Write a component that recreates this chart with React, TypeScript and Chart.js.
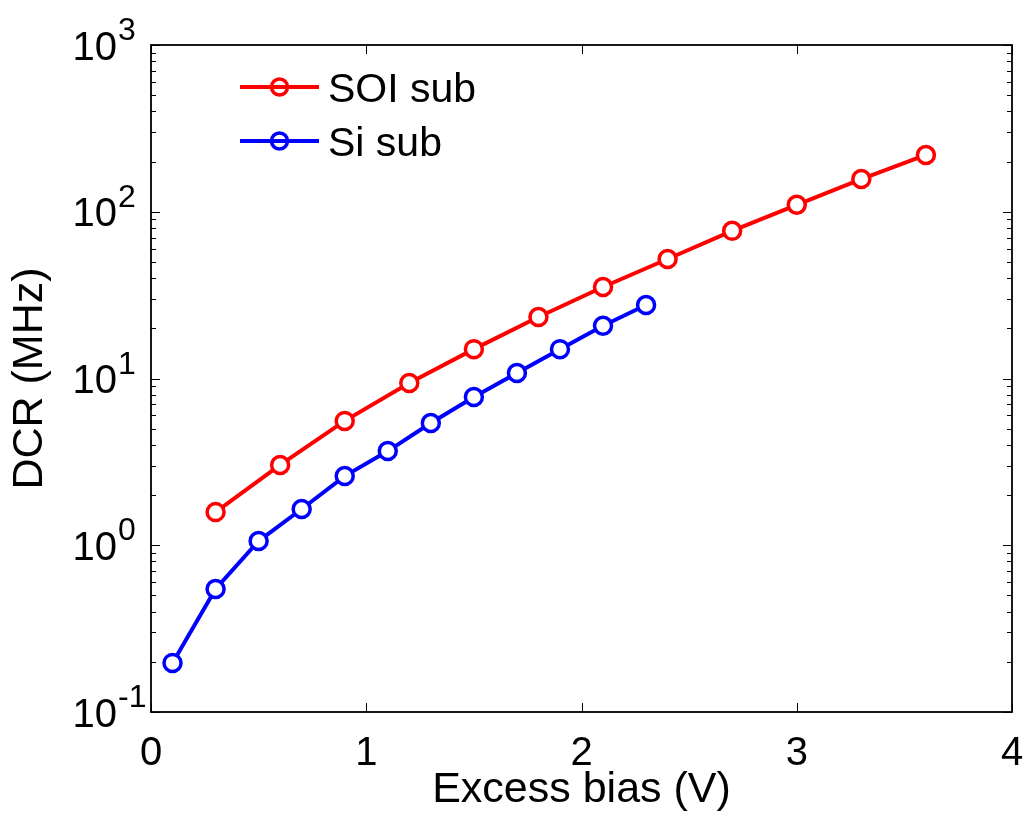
import { useEffect, useRef } from 'react';
import { Chart, registerables } from 'chart.js';

Chart.register(...registerables);

// ---- data ----
const soiBias = [0.3, 0.6, 0.9, 1.2, 1.5, 1.8, 2.1, 2.4, 2.7, 3.0, 3.3, 3.6];
const soiDcr = [1.58, 3.03, 5.57, 9.4, 15.0, 23.4, 35.4, 52.1, 76.8, 110, 157, 219];
const siBias = [0.1, 0.3, 0.5, 0.7, 0.9, 1.1, 1.3, 1.5, 1.7, 1.9, 2.1, 2.3];
const siDcr = [0.197, 0.547, 1.06, 1.65, 2.6, 3.67, 5.41, 7.74, 10.8, 15.0, 20.7, 27.6];
const seriesNames = ['SOI sub', 'Si sub'];
const seriesColors = ['#ff0000', '#0000ff'];
const xTickValues = [0, 1, 2, 3, 4];
const yDecadeExponents = [-1, 0, 1, 2, 3];
const xTitle = 'Excess bias (V)';
const yTitle = 'DCR (MHz)';

const FONT = '"Liberation Sans", Arial, Helvetica, sans-serif';

const matlabAxes = {
  id: 'matlabAxes',
  afterDraw(chart: any) {
    const { ctx, chartArea: a, scales } = chart;
    const xs = scales.x;
    const ys = scales.y;
    ctx.save();
    ctx.strokeStyle = '#000';
    ctx.lineWidth = 1;
    // y ticks (major + minor), left and right, inward
    const minE = yDecadeExponents[0];
    const maxE = yDecadeExponents[yDecadeExponents.length - 1];
    for (let e = minE; e <= maxE; e++) {
      for (let m = 1; m <= 9; m++) {
        if (e === maxE && m > 1) break;
        const v = m * Math.pow(10, e);
        const py = Math.round(ys.getPixelForValue(v)) + 0.5;
        const len = m === 1 ? 9 : 5;
        ctx.beginPath();
        ctx.moveTo(a.left, py);
        ctx.lineTo(a.left + len, py);
        ctx.moveTo(a.right, py);
        ctx.lineTo(a.right - len, py);
        ctx.stroke();
      }
    }
    // x ticks, top and bottom, inward
    for (const t of xTickValues) {
      const px = Math.round(xs.getPixelForValue(t)) + 0.5;
      ctx.beginPath();
      ctx.moveTo(px, a.bottom);
      ctx.lineTo(px, a.bottom - 9);
      ctx.moveTo(px, a.top);
      ctx.lineTo(px, a.top + 9);
      ctx.stroke();
    }
    // box
    ctx.lineWidth = 1.8;
    ctx.strokeRect(a.left, a.top, a.right - a.left, a.bottom - a.top);

    // y tick labels 10^k
    ctx.fillStyle = '#000';
    for (const e of yDecadeExponents) {
      const py = ys.getPixelForValue(Math.pow(10, e));
      ctx.font = `40px ${FONT}`;
      ctx.textAlign = 'right';
      ctx.textBaseline = 'alphabetic';
      const baseRight = a.left - 34;
      ctx.fillText('10', baseRight, py + 14.5);
      ctx.font = `32px ${FONT}`;
      ctx.textAlign = 'left';
      ctx.fillText(String(e), baseRight + 1, py - 5);
    }

    // legend
    const datasets = chart.data.datasets;
    datasets.forEach((ds: any, i: number) => {
      const ly = a.top + 42 + i * 54;
      const x0 = a.left + 89;
      const x1 = a.left + 168;
      ctx.strokeStyle = ds.borderColor;
      ctx.lineWidth = 4;
      ctx.beginPath();
      ctx.moveTo(x0, ly);
      ctx.lineTo(x1, ly);
      ctx.stroke();
      ctx.lineWidth = 3.5;
      ctx.beginPath();
      ctx.arc((x0 + x1) / 2, ly, 8, 0, Math.PI * 2);
      ctx.stroke();
      ctx.fillStyle = '#000';
      ctx.font = `41px ${FONT}`;
      ctx.textAlign = 'left';
      ctx.textBaseline = 'alphabetic';
      ctx.fillText(ds.label, a.left + 177, ly + 15);
    });
    ctx.restore();
  },
};

export default function App() {
  const ref = useRef<HTMLCanvasElement>(null);
  useEffect(() => {
    Chart.defaults.font.family = FONT;
    Chart.defaults.color = '#000';
    const mk = (xv: number[], yv: number[], i: number) => ({
      label: seriesNames[i],
      data: xv.map((x, k) => ({ x, y: yv[k] })),
      borderColor: seriesColors[i],
      backgroundColor: '#ffffff',
      borderWidth: 4,
      pointRadius: 8.5,
      pointBorderWidth: 3.5,
      pointBackgroundColor: '#ffffff',
      pointBorderColor: seriesColors[i],
      tension: 0,
      fill: false,
    });
    const chart = new Chart(ref.current!, {
      type: 'line',
      data: {
        datasets: [mk(soiBias, soiDcr, 0), mk(siBias, siDcr, 1)],
      },
      options: {
        responsive: false,
        animation: false,
        devicePixelRatio: 1,
        layout: { padding: { top: 45, right: 16, left: 0, bottom: 0 } },
        plugins: { legend: { display: false }, tooltip: { enabled: false } },
        scales: {
          x: {
            type: 'linear',
            min: 0,
            max: 4,
            grid: { display: false },
            border: { display: false },
            ticks: { stepSize: 1, padding: 10, font: { size: 40 }, color: '#000' },
            title: {
              display: true,
              text: xTitle,
              font: { size: 43, lineHeight: 1 },
              padding: { top: 0, bottom: 1 },
              color: '#000',
            },
            afterFit(scale: any) {
              scale.height = 101;
              scale.paddingLeft = 0;
              scale.paddingRight = 0;
            },
          },
          y: {
            type: 'logarithmic',
            min: 0.1,
            max: 1000,
            grid: { display: false },
            border: { display: false },
            ticks: { display: false },
            title: {
              display: true,
              text: yTitle,
              font: { size: 43, lineHeight: 1 },
              padding: { top: 8.5, bottom: 0 },
              color: '#000',
            },
            afterFit(scale: any) {
              scale.width = 151;
              scale.paddingTop = 0;
              scale.paddingBottom = 0;
            },
          },
        },
      },
      plugins: [matlabAxes],
    } as any);
    return () => chart.destroy();
  }, []);
  return (
    <div style={{ position: 'absolute', left: 0, top: 0, width: 1028, height: 813, background: '#fff' }}>
      <canvas ref={ref} width={1028} height={813} style={{ display: 'block' }} />
    </div>
  );
}
